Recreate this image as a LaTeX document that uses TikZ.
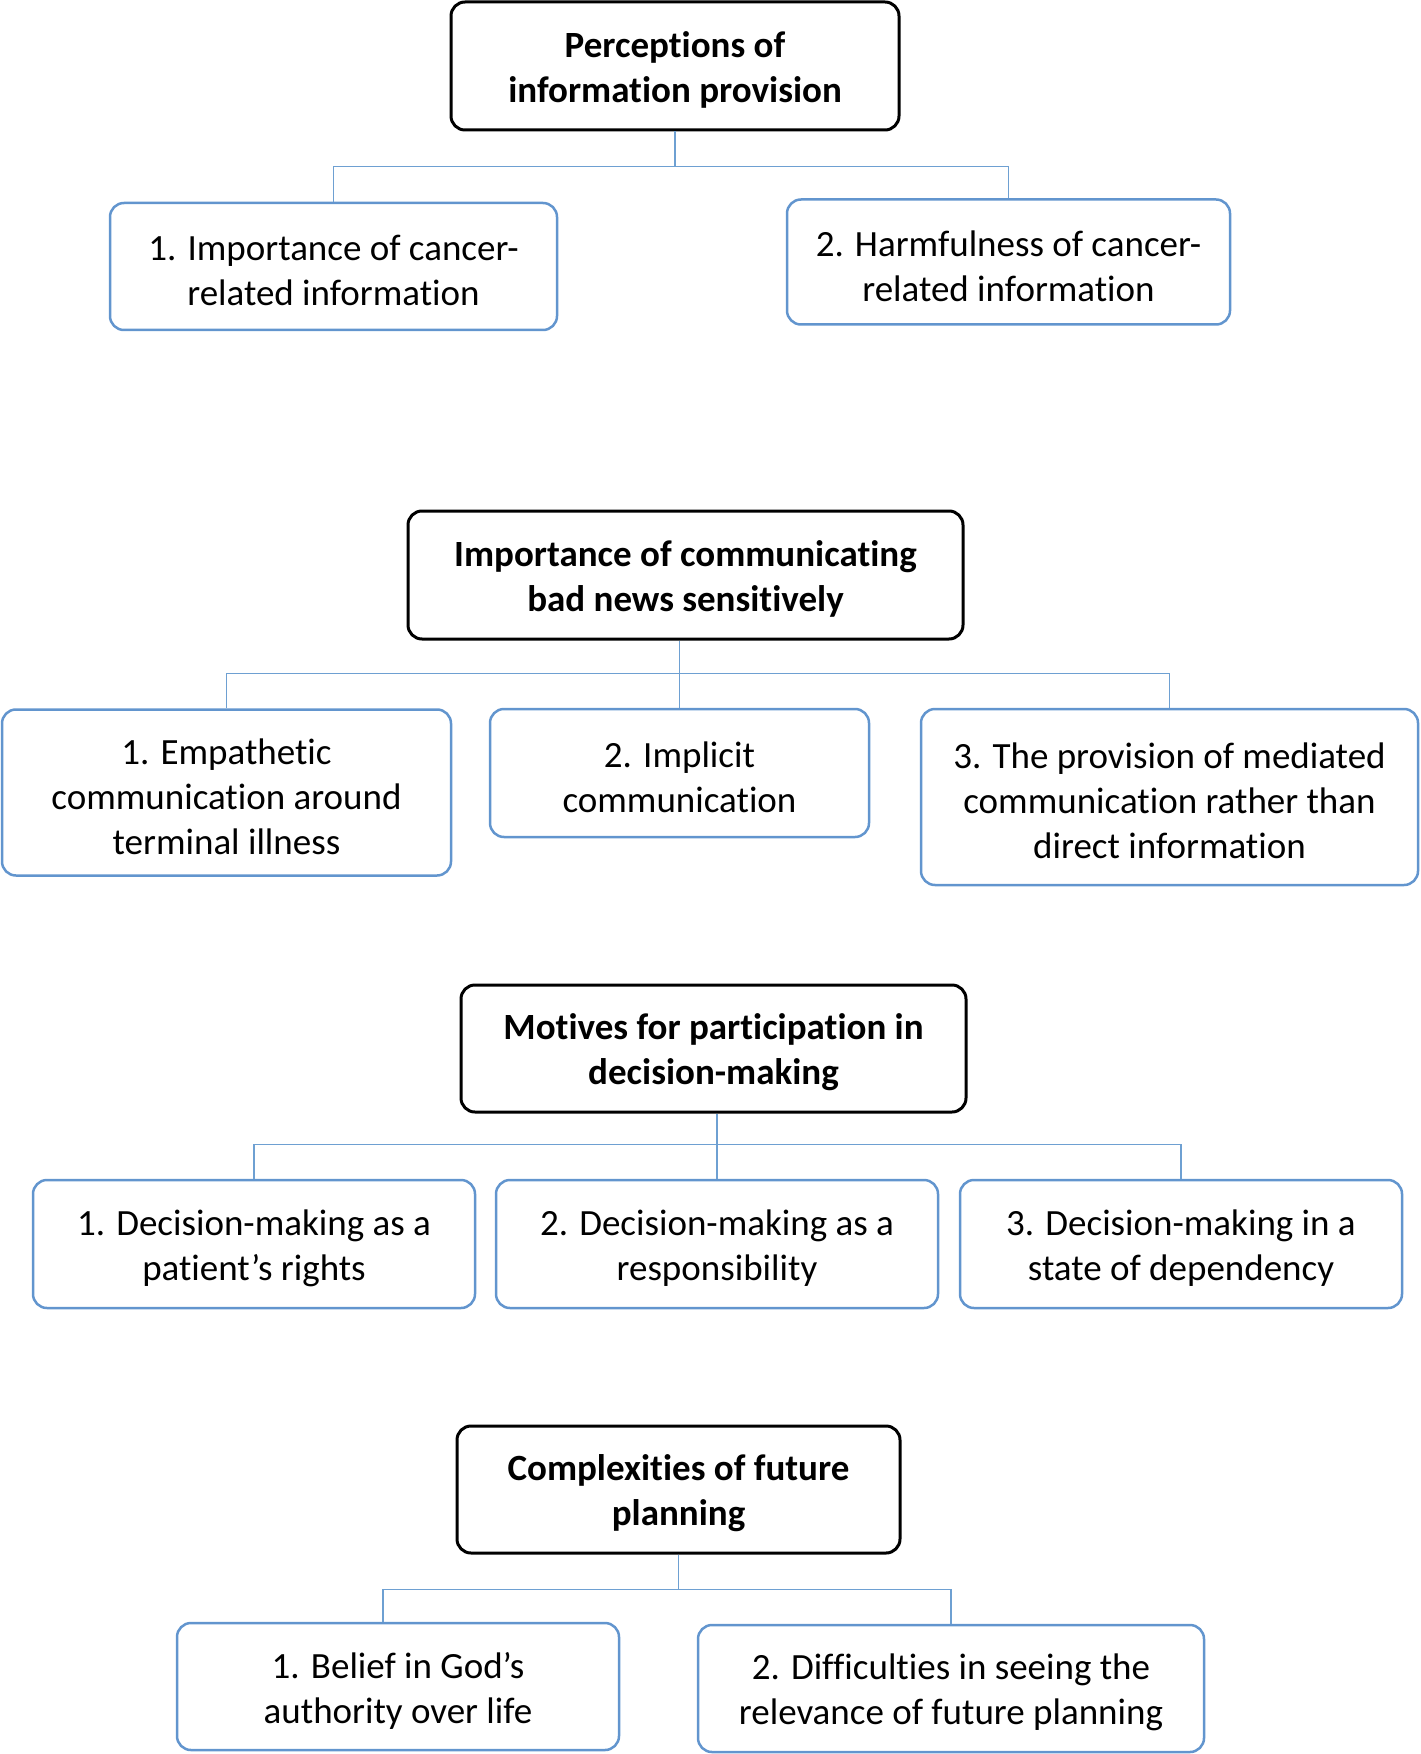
\documentclass[tikz,border=0pt]{standalone}
\usepackage{fontspec}
\setmainfont{Carlito}[Ligatures={NoCommon,NoContextual,NoRare},Contextuals=NoAlternate]
\definecolor{themeblue}{RGB}{98,149,206}
\definecolor{linkblue}{RGB}{110,160,210}
\newcommand{\topstrut}{\rule{0pt}{17pt}}
\tikzset{
  theme/.style={draw=black, line width=1.5pt, rounded corners=7pt, align=center,
    font=\fontsize{18.5}{22.5}\selectfont\bfseries, inner sep=0pt},
  subtheme/.style={draw=themeblue, line width=1.25pt, rounded corners=7pt, align=center,
    font=\fontsize{18.5}{22.5}\selectfont, inner sep=0pt},
  link/.style={draw=linkblue, line width=0.6pt}
}
\begin{document}
\begin{tikzpicture}[x=0.5pt,y=0.5pt,yscale=-1,xscale=1]
\useasboundingbox (0,0) rectangle (1420,1754);

% Perceptions of information provision
\node[theme, minimum width=224pt, minimum height=64pt] (pA) at (675,66) {\topstrut Perceptions of\\information provision};
\node[subtheme, minimum width=223.5pt, minimum height=63.5pt] (a1) at (333.5,266.5) {\topstrut 1. Importance of cancer-\\related information};
\node[subtheme, minimum width=221.5pt, minimum height=62.5pt] (a2) at (1008.5,262) {\topstrut 2. Harmfulness of cancer-\\related information};

% Importance of communicating bad news sensitively
\node[theme, minimum width=277.5pt, minimum height=64pt] (pB) at (685.5,575) {\topstrut Importance of communicating\\bad news sensitively};
\node[subtheme, minimum width=224.5pt, minimum height=83pt] (b1) at (226.5,792.5) {\topstrut 1. Empathetic\\communication around\\terminal illness};
\node[subtheme, minimum width=189.5pt, minimum height=64pt] (b2) at (679.5,773) {\topstrut 2. Implicit\\communication};
\node[subtheme, minimum width=248.5pt, minimum height=88pt] (b3) at (1169.5,797) {\topstrut 3. The provision of mediated\\communication rather than\\direct information};

% Motives for participation in decision-making
\node[theme, minimum width=252.5pt, minimum height=63.5pt] (pC) at (713.5,1048.5) {\topstrut Motives for participation in\\decision-making};
\node[subtheme, minimum width=221pt, minimum height=64pt] (c1) at (254,1244) {\topstrut 1. Decision-making as a\\patient’s rights};
\node[subtheme, minimum width=221pt, minimum height=64pt] (c2) at (717,1244) {\topstrut 2. Decision-making as a\\responsibility};
\node[subtheme, minimum width=221pt, minimum height=64pt] (c3) at (1181,1244) {\topstrut 3. Decision-making in a\\state of dependency};

% Complexities of future planning
\node[theme, minimum width=221.5pt, minimum height=63.5pt] (pD) at (678.5,1489.5) {\topstrut Complexities of future\\planning};
\node[subtheme, minimum width=221pt, minimum height=63.5pt] (d1) at (398,1686.5) {\topstrut 1. Belief in God’s\\authority over life};
\node[subtheme, minimum width=253pt, minimum height=63.5pt] (d2) at (951,1688.5) {\topstrut 2. Difficulties in seeing the\\relevance of future planning};

% connectors
\draw[link] (pA.south) |- ++(0,35) -| (a1.north);
\draw[link] (pA.south) |- ++(0,35) -| (a2.north);

\draw[link] (b2.north) -- (b2.north |- pB.south);
\draw[link] (b2.north) |- ++(0,-34) -| (b1.north);
\draw[link] (b2.north) |- ++(0,-34) -| (b3.north);

\draw[link] (c2.north) -- (c2.north |- pC.south);
\draw[link] (c2.north) |- ++(0,-34) -| (c1.north);
\draw[link] (c2.north) |- ++(0,-34) -| (c3.north);

\draw[link] (pD.south) |- ++(0,35) -| ([xshift=-7.5pt]d1.north);
\draw[link] (pD.south) |- ++(0,35) -| (d2.north);
\end{tikzpicture}
\end{document}
